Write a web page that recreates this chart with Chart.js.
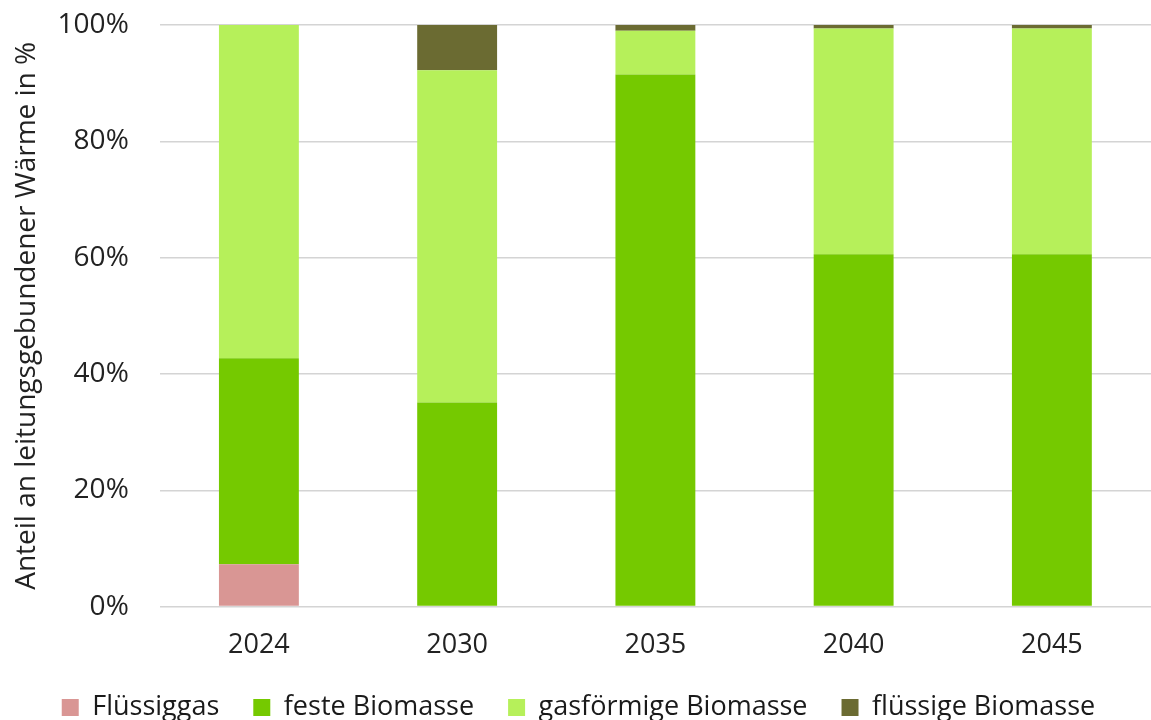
<!DOCTYPE html>
<html>
<head>
<meta charset="utf-8">
<script src="https://cdn.jsdelivr.net/npm/chart.js@4/dist/chart.umd.min.js"></script>
<style>
  html, body { margin: 0; padding: 0; background: #fff; }
  #wrap { width: 1151px; height: 720px; }
</style>
</head>
<body>
<div id="wrap"><canvas id="chart" width="1151" height="720"></canvas></div>
<script>
// Anteile in %
const years = ['2024', '2030', '2035', '2040', '2045'];
const fluessiggas = [7.3, 0, 0, 0, 0];
const festeBiomasse = [35.4, 35.1, 91.5, 60.6, 60.6];
const gasBiomasse = [57.3, 57.1, 7.5, 38.8, 38.8];
const fluessigeBiomasse = [0, 7.8, 1.0, 0.6, 0.6];
const yTicks = [0, 20, 40, 60, 80, 100];

const font = '"Open Sans", Lato, sans-serif';

new Chart(document.getElementById('chart').getContext('2d'), {
  type: 'bar',
  data: {
    labels: years,
    datasets: [
      { label: 'Flüssiggas', data: fluessiggas, backgroundColor: '#d99694' },
      { label: 'feste Biomasse', data: festeBiomasse, backgroundColor: '#75c900' },
      { label: 'gasförmige Biomasse', data: gasBiomasse, backgroundColor: '#b6f05a' },
      { label: 'flüssige Biomasse', data: fluessigeBiomasse, backgroundColor: '#6b6b32' }
    ]
  },
  options: {
    responsive: false,
    animation: false,
    layout: { padding: { left: 6, right: 0, top: 25, bottom: -11 } },
    datasets: { bar: { barPercentage: 1, categoryPercentage: 0.403 } },
    plugins: {
      tooltip: { enabled: false },
      legend: {
        position: 'bottom',
        labels: {
          font: { family: font, size: 27 },
          color: '#1a1a1a',
          boxWidth: 17,
          boxHeight: 17,
          padding: 34
        }
      }
    },
    scales: {
      x: {
        stacked: true,
        grid: { display: false },
        border: { display: false },
        afterFit: (axis) => { axis.height -= 17; },
        ticks: { font: { family: font, size: 27 }, color: '#222', padding: 15 }
      },
      y: {
        stacked: true,
        min: 0,
        max: 100,
        afterBuildTicks: (axis) => { axis.ticks = yTicks.map(v => ({ value: v })); },
        afterFit: (axis) => { axis.width += 11; },
        grid: { color: '#d4d4d4', lineWidth: 1.5, drawTicks: true, tickLength: 28, tickColor: 'rgba(0,0,0,0)' },
        border: { display: false },
        ticks: {
          font: { family: font, size: 28 },
          color: '#222',
          padding: 3,
          callback: (v) => v + '%'
        },
        title: {
          display: true,
          text: 'Anteil an leitungsgebundener Wärme in %',
          font: { family: font, size: 28 },
          color: '#222',
          padding: { bottom: 0 }
        }
      }
    }
  }
});
</script>
</body>
</html>
